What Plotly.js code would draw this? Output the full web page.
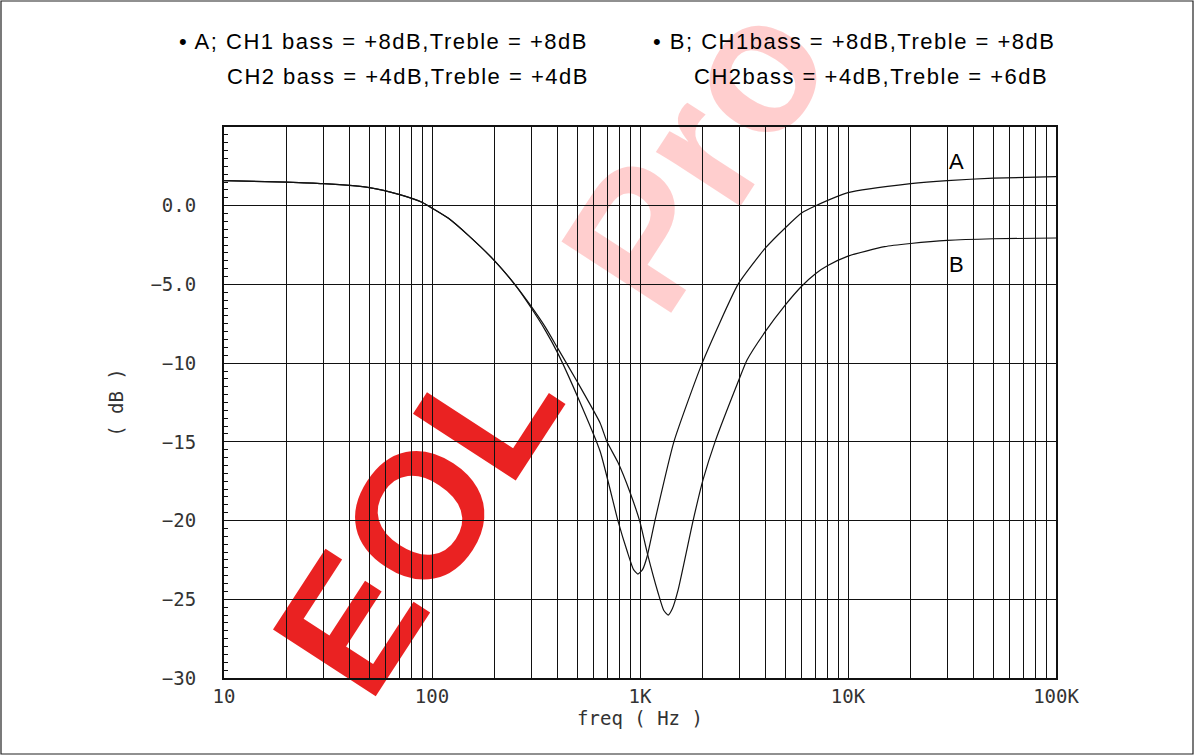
<!DOCTYPE html>
<html>
<head>
<meta charset="utf-8">
<script src="https://cdn.plot.ly/plotly-3.0.1.min.js"></script>
<style>
html,body{margin:0;padding:0;background:#fff;}
#chart{width:1195px;height:756px;}
.annotation-text{letter-spacing:1.5px;}
</style>
</head>
<body>
<div id="chart"></div>
<script>
// ---- data ----
const freqA = [10, 20, 30, 50, 70, 90, 100, 120, 150, 200, 250, 300, 350, 400, 500, 643, 783, 870, 930, 977, 1030, 1081, 1180, 1455, 1990, 2960, 4000, 5000, 6000, 7000, 10000, 20000, 30000, 50000, 100000];
const dbA   = [1.6, 1.5, 1.4, 1.15, 0.7, 0.2, -0.15, -0.8, -1.9, -3.5, -5.0, -6.5, -7.9, -9.3, -12.1, -15.6, -20.0, -22.0, -23.1, -23.4, -23.1, -22.3, -20.0, -15.0, -10.0, -5.0, -2.7, -1.4, -0.45, 0.0, 0.83, 1.4, 1.6, 1.75, 1.85];

const freqB = [10, 20, 30, 50, 70, 90, 100, 120, 150, 200, 250, 300, 350, 400, 500, 643, 694, 783, 895, 1000, 1081, 1222, 1300, 1365, 1430, 1525, 1800, 2010, 2295, 2960, 3270, 4000, 5000, 6000, 7000, 8000, 10000, 15000, 20000, 30000, 50000, 100000];
const dbB   = [1.6, 1.5, 1.4, 1.15, 0.7, 0.2, -0.15, -0.8, -1.9, -3.5, -5.0, -6.4, -7.7, -9.0, -11.2, -13.8, -15.0, -16.3, -18.2, -20.1, -22.0, -24.6, -25.7, -26.0, -25.6, -24.4, -20.0, -17.4, -15.0, -11.2, -9.8, -8.0, -6.3, -5.1, -4.3, -3.8, -3.2, -2.6, -2.4, -2.2, -2.1, -2.05];

const curveNames = ['A', 'B'];
const yTickVals = [0, -5, -10, -15, -20, -25, -30];
const yTickLabels = ['0.0', '\u22125.0', '\u221210', '\u221215', '\u221220', '\u221225', '\u221230'];
const xDecades = [10, 100, 1000, 10000, 100000];
const xTickLabels = ['10', '100', '1K', '10K', '100K'];

const legendA1 = '\u2022 A; CH1 bass = +8dB,Treble = +8dB';
const legendA2 = 'CH2 bass = +4dB,Treble = +4dB';
const legendB1 = '\u2022 B; CH1bass = +8dB,Treble = +8dB';
const legendB2 = 'CH2bass = +4dB,Treble = +6dB';
const watermark = ['EOL', 'Pro'];

// ---- build grid ticks for log axis (1..9 per decade) ----
const xTickVals = [], xTickText = [];
for (let d = 0; d < xDecades.length; d++) {
  if (d < xDecades.length - 1) {
    for (let m = 1; m <= 9; m++) {
      xTickVals.push(xDecades[d] * m);
      xTickText.push(m === 1 ? xTickLabels[d] : '');
    }
  } else {
    xTickVals.push(xDecades[d]);
    xTickText.push(xTickLabels[d]);
  }
}

// plot area in pixels
const L = 224, R = 1056, T = 127, B = 678;
const W = 1195, H = 756;
const px = x => (x - L) / (R - L);
const py = y => (B - y) / (B - T);

const lineStyle = {color: '#111', width: 1.2, shape: 'spline', smoothing: 0.5};
const traces = [
  {x: freqA, y: dbA, name: curveNames[0], mode: 'lines', line: lineStyle},
  {x: freqB, y: dbB, name: curveNames[1], mode: 'lines', line: lineStyle}
];

const tickFont = {family: 'DejaVu Sans Mono, monospace', size: 19, color: '#333'};
const textFont = {family: 'Liberation Sans, Arial, sans-serif', size: 22, color: '#000'};
const gridColor = '#111';
const wmFont = 'Liberation Sans, Arial, sans-serif';

const layout = {
  width: W, height: H,
  margin: {l: L, r: W - R, t: T, b: H - B, pad: 0},
  paper_bgcolor: '#fff',
  plot_bgcolor: 'rgba(0,0,0,0)',
  showlegend: false,
  xaxis: {
    type: 'log', range: [1, 5],
    tickmode: 'array', tickvals: xTickVals, ticktext: xTickText,
    showgrid: true, gridcolor: gridColor, gridwidth: 1,
    showline: true, linecolor: gridColor, linewidth: 2, mirror: true,
    ticks: '', tickfont: tickFont, zeroline: false,
    title: {text: 'freq ( Hz )', font: tickFont, standoff: 2}
  },
  yaxis: {
    range: [-30, 5],
    tickmode: 'array', tickvals: yTickVals, ticktext: yTickLabels,
    showgrid: true, gridcolor: gridColor, gridwidth: 1,
    showline: true, linecolor: gridColor, linewidth: 2, mirror: true,
    ticks: 'inside', ticklen: 5, tickcolor: gridColor,
    minor: {dtick: 0.5, ticks: 'inside', ticklen: 4, tickcolor: gridColor, showgrid: false},
    tickfont: tickFont, zeroline: false, ticklabelstandoff: 22,
    title: {text: '( dB )', font: tickFont, standoff: 22}
  },
  annotations: [
    {xref: 'paper', yref: 'paper', x: px(177), y: py(41), xanchor: 'left', yanchor: 'middle', text: legendA1, showarrow: false, font: textFont},
    {xref: 'paper', yref: 'paper', x: px(591), y: py(77), xanchor: 'right', yanchor: 'middle', text: legendA2, showarrow: false, font: textFont},
    {xref: 'paper', yref: 'paper', x: px(651), y: py(41), xanchor: 'left', yanchor: 'middle', text: legendB1, showarrow: false, font: textFont},
    {xref: 'paper', yref: 'paper', x: px(1050), y: py(77), xanchor: 'right', yanchor: 'middle', text: legendB2, showarrow: false, font: textFont},
    {xref: 'paper', yref: 'paper', x: px(957), y: py(161), xanchor: 'center', yanchor: 'middle', text: curveNames[0], showarrow: false, font: textFont},
    {xref: 'paper', yref: 'paper', x: px(957), y: py(264), xanchor: 'center', yanchor: 'middle', text: curveNames[1], showarrow: false, font: textFont}
  ],
  shapes: [
    // outer frame
    {type: 'rect', xref: 'paper', yref: 'paper', x0: px(1), x1: px(1193), y0: py(754), y1: py(1), line: {color: '#222', width: 1.2}, fillcolor: 'rgba(0,0,0,0)', layer: 'above'},
    // watermark
    {type: 'rect', xref: 'paper', yref: 'paper', x0: px(398), x1: px(408), y0: py(515), y1: py(505), line: {width: 0}, fillcolor: 'rgba(0,0,0,0)', layer: 'below',
     label: {text: '<b>' + watermark[0] + '</b>', textangle: -57, textposition: 'middle center', font: {family: wmFont, size: 178, color: 'rgba(232,10,10,0.9)'}}},
    {type: 'rect', xref: 'paper', yref: 'paper', x0: px(675), x1: px(685), y0: py(150), y1: py(140), line: {width: 0}, fillcolor: 'rgba(0,0,0,0)', layer: 'below',
     label: {text: '<b>' + watermark[1] + '</b>', textangle: -57, textposition: 'middle center', font: {family: wmFont, size: 190, color: 'rgba(255,165,165,0.55)'}}}
  ]
};

Plotly.newPlot('chart', traces, layout, {displayModeBar: false, staticPlot: true});
</script>
</body>
</html>
